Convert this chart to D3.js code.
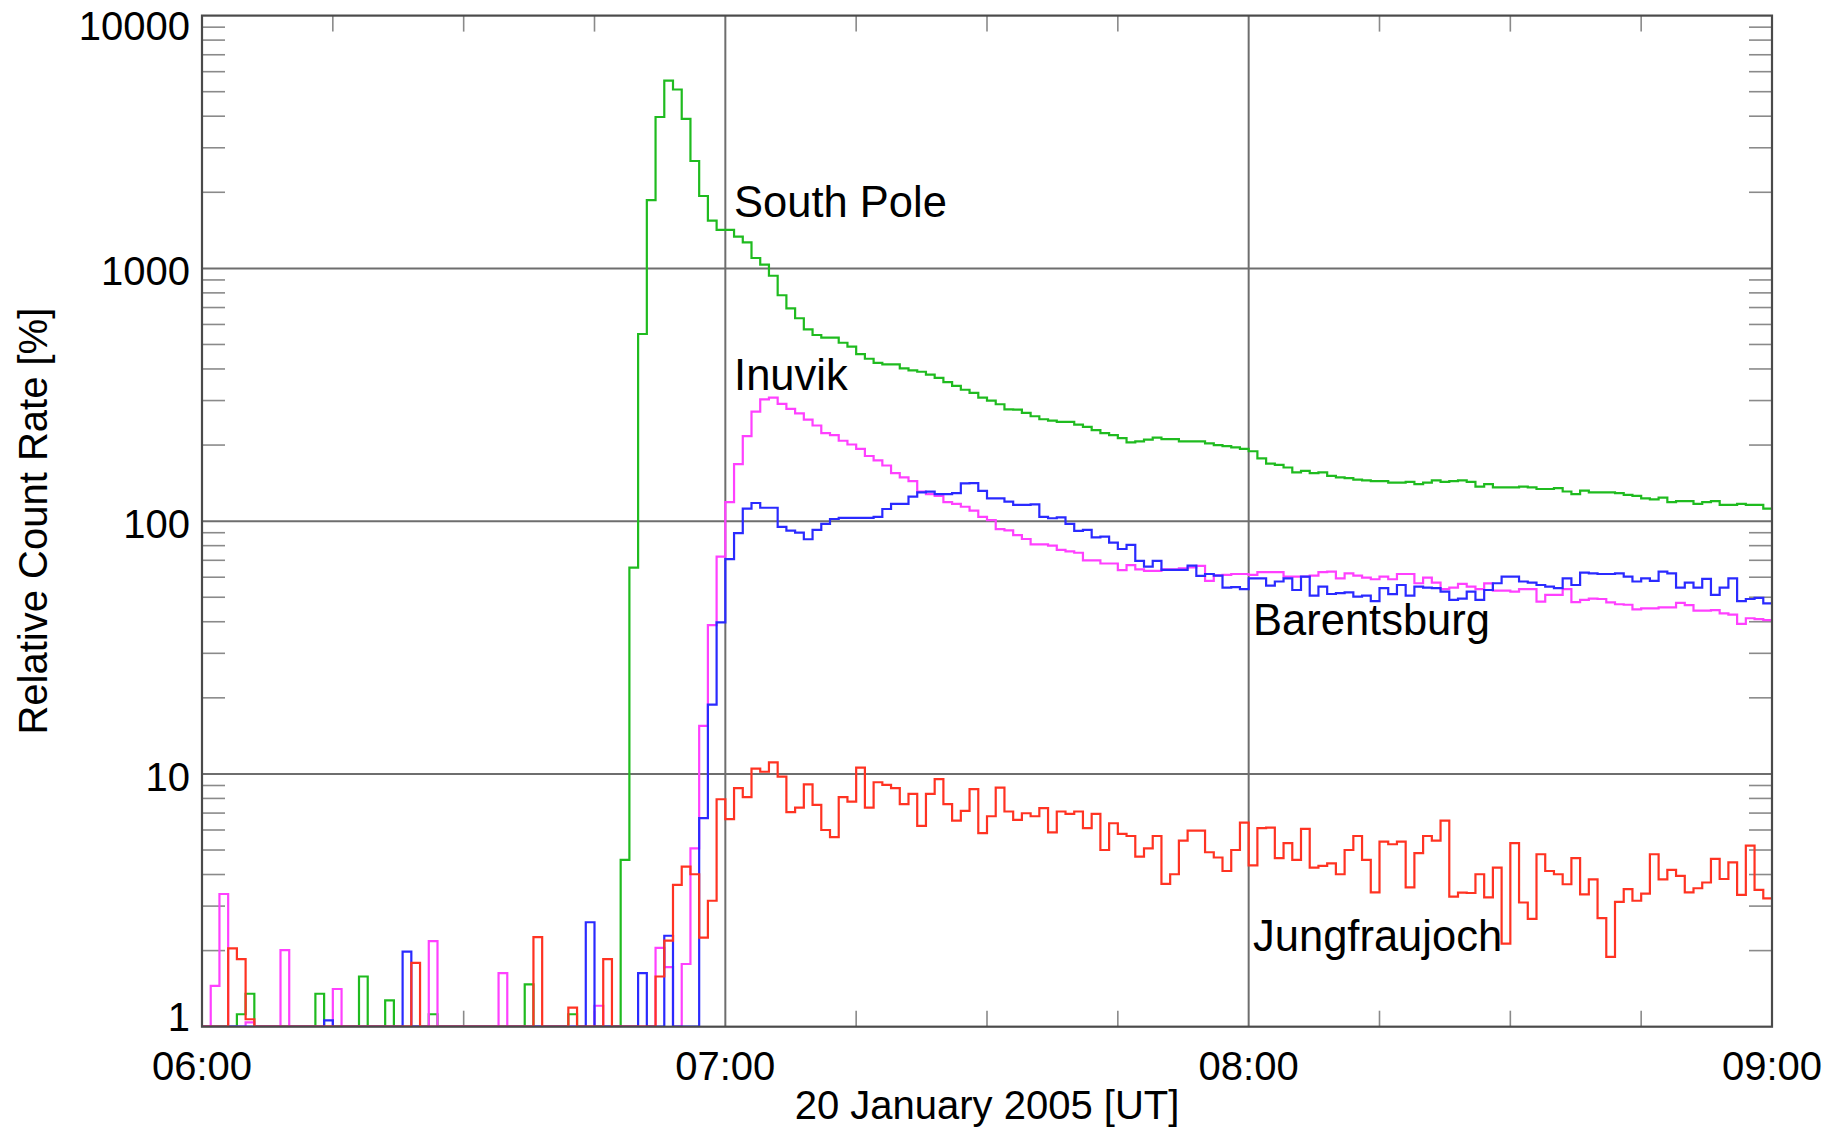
<!DOCTYPE html>
<html>
<head>
<meta charset="utf-8">
<script src="https://cdn.jsdelivr.net/npm/d3@7"></script>
<style>
  html, body { margin: 0; padding: 0; background: #fff; }
  svg { display: block; }
  text { font-family: "Liberation Sans", Arial, Helvetica, sans-serif; fill: #000; }
</style>
</head>
<body>
<svg id="chart" width="1841" height="1132"></svg>
<script>
// ---------- DATA (1-minute bins starting at 06:00 UT; 0 = below axis) ----------
const binMinutes = 1;            // width of each bin in minutes
const startLabel = "06:00";

const southPole = [
  0,0,0,0,1.12,1.35,0,0,0,0, 0,0,0,1.35,0,0,0,0,1.58,0,
  0,1.27,0,0,0,0,1.12,0,0,0, 0,0,0,0,0,0,0,1.47,0,0,
  0,0,1.12,0,0,0,0,0,4.57,65.5, 550,1862,3970,5530,5100,3900,2660,1933,1544,1419,
  1419,1335,1268,1099,1035,935,783,695,635,574, 545,532,532,508,490,458,439,423,417,417,
  402,395,390,380,369,355,343,331,322,308, 300,290,277,276,268,260,253,250,247,247,
  241,236,229,223,219,213,205,207,210,214, 211,211,207,207,207,203,200,198,196,193,
  189,177,169,167,163,156,158,155,156,151, 149,148,146,145,144,144,142,142,143,140,
  142,145,143,144,145,143,137,140,136,136, 136,137,136,134,134,135,131,128,132,130,
  130,130,129,127,126,123,122,124,119,120, 120,117,119,120,116,116,117,116,116,112
];

const inuvik = [
  0,1.45,3.35,0,0,1.04,0,0,0,2.01, 0,0,0,0,0,1.41,0,0,0,0,
  0,0,0,0,0,0,2.18,0,0,0, 0,0,0,0,1.63,0,0,0,0,0,
  0,0,0,0,0,1.21,0,0,0,0, 0,0,2.05,1.72,0,1.77,5.08,15.5,38.8,72.4,
  119,168,217,271,303,308,291,278,267,252, 239,223,219,208,201,193,181,174,166,155,
  149,144,131,128,126,119,117,114,110,104, 101,93,92,88,85,81,81,80,77,76,
  75,70,70,68,68,64,67,64.5,63.6,63.6, 64.4,64.4,65,65.6,66.5,58,61,61.3,61.8,61.8,
  61.3,62.8,62.8,62.8,60.3,60.3,60.3,60.9,62.8,63.1, 59.4,62.2,60.9,59.8,58.9,60.3,58.9,61.8,61.8,56.8,
  59.8,57.1,53.8,54.6,56.5,55.1,53.8,56.7,53.1,53.1, 52.6,53.8,53.8,48.0,51.1,51.1,53.8,47.8,48.8,49.4,
  49.2,47.7,46.9,46.7,44.8,45.2,45.2,45.6,45.6,47.5, 46.5,44.3,44.3,44.5,43.2,42.7,39.2,41.3,41.0,40.6
];

const barentsburg = [
  0,0,0,0,0,0,0,0,0,0, 0,0,0,0,1.06,0,0,0,0,0,
  0,0,0,1.98,0,0,0,0,0,0, 0,0,0,0,0,0,0,0,0,0,
  0,0,0,0,2.59,0,0,0,0,0, 1.63,0,0,2.29,0,0,0,6.68,18.8,39.8,
  70.8,89.6,112,118,113,113,95,91.7,90,84.8, 92.3,97.5,102,103,103,103,103,104,111.7,117,
  117,125,130,130.8,128,128,129,141,141.5,131.7, 123,123,119.4,116,116,116.5,104,102.7,103.5,97.5,
  91.5,92.3,86.3,86.8,82.2,77.6,80.5,69.6,66.1,69.6, 64.1,64.1,64.1,66.7,60.7,61.8,60.9,54.6,54.8,53.8,
  59.4,59.4,55.6,57.7,59.4,53.4,60.3,50.7,55.1,51.5, 51.9,52.3,50.3,50.7,48.3,54.3,51.4,55.9,50.7,55.1,
  54.6,54.3,52.6,48.8,49.4,52.6,48.8,53.4,56.8,60.3, 60.3,57.7,57.1,55.9,55.1,54.3,59.4,55.9,62.6,62.2,
  61.8,61.8,62.2,60.3,57.7,59.4,58.0,63.1,62.2,54.6, 57.1,54.6,59.1,51.1,54.6,59.4,48.3,49.2,49.7,47.3
];

const jungfraujoch = [
  0,0,0,2.04,1.85,1.07,0,0,0,0, 0,0,0,0,0,0,0,0,0,0,
  0,0,0,0,1.79,0,0,0,0,0, 0,0,0,0,0,0,0,0,2.26,0,
  0,0,1.19,0,0,0,1.85,0,0,0, 0,0,1.58,2.19,3.64,4.3,4.01,2.25,3.15,7.94,
  6.62,8.78,8.09,10.5,10.2,11.1,9.75,7.06,7.36,9.1, 7.54,6.0,5.62,8.09,7.77,10.6,7.36,9.27,9.05,8.78,
  7.59,8.34,6.23,8.34,9.53,7.59,6.54,7.14,8.7,5.83, 6.8,8.83,7.1,6.58,6.99,6.8,7.32,5.87,7.1,6.95,
  7.1,6.1,6.95,5.0,6.38,5.79,5.68,4.71,5.08,5.68, 3.67,4.01,5.45,5.97,5.97,4.9,4.67,4.13,5.0,6.42,
  4.35,6.10,6.13,4.64,5.32,4.57,6.06,4.26,4.33,4.43, 4.01,5.0,5.68,4.57,3.40,5.40,5.27,5.40,3.56,4.86,
  5.68,5.45,6.54,3.27,3.39,3.38,4.01,3.25,4.26,2.13, 5.32,3.10,2.67,4.81,4.13,4.01,3.66,4.64,3.34,3.83,
  2.69,1.89,3.12,3.50,3.15,3.36,4.81,3.83,4.17,3.95, 3.40,3.53,3.72,4.61,3.84,4.47,3.32,5.20,3.48,3.22
];

const seriesNames  = ["South Pole", "Inuvik", "Barentsburg", "Jungfraujoch"];
const seriesColors = ["#1fbb1f", "#ff40ff", "#2a2aff", "#ff3322"];

const xTickMinutes = [0, 60, 120, 180];
const xTickLabels  = ["06:00", "07:00", "08:00", "09:00"];
const xMinorMinutes = [15, 30, 45, 75, 90, 105, 135, 150, 165];
const yTickValues  = [1, 10, 100, 1000, 10000];
const yTickLabels  = ["1", "10", "100", "1000", "10000"];

const xTitle = "20 January 2005 [UT]";
const yTitle = "Relative Count Rate [%]";

// label anchor positions in data units (minute, value) = text baseline start
const labelMinute = [61.0, 61.0, 120.5, 120.5];
const labelValue  = [1600, 330, 35.4, 2.0];

// ---------- LAYOUT ----------
const L = 202, R = 1772, T = 15.6, B = 1026.7;
const svg = d3.select("#chart");

const x = d3.scaleLinear().domain([0, 180]).range([L, R]);
const y = d3.scaleLog().domain([1, 10000]).range([B, T]).clamp(true);

// minor y ticks (2..9 of each decade)
const yMinor = [];
[1, 10, 100, 1000].forEach(d => { for (let k = 2; k <= 9; k++) yMinor.push(d * k); });

const gGrid = svg.append("g");
gGrid.selectAll("line.hg").data([10, 100, 1000]).enter().append("line")
  .attr("x1", L).attr("x2", R)
  .attr("y1", d => y(d)).attr("y2", d => y(d))
  .attr("stroke", "#6e6e6e").attr("stroke-width", 2);
gGrid.selectAll("line.vg").data([60, 120]).enter().append("line")
  .attr("x1", d => x(d)).attr("x2", d => x(d))
  .attr("y1", T).attr("y2", B)
  .attr("stroke", "#6e6e6e").attr("stroke-width", 2);
const minorLen = 23;
gGrid.selectAll("line.ymL").data(yMinor).enter().append("line")
  .attr("x1", L).attr("x2", L + minorLen)
  .attr("y1", d => y(d)).attr("y2", d => y(d))
  .attr("stroke", "#8a8a8a").attr("stroke-width", 1.6);
gGrid.selectAll("line.ymR").data(yMinor).enter().append("line")
  .attr("x1", R - minorLen).attr("x2", R)
  .attr("y1", d => y(d)).attr("y2", d => y(d))
  .attr("stroke", "#8a8a8a").attr("stroke-width", 1.6);
const xTickLen = 16;
gGrid.selectAll("line.xmB").data(xMinorMinutes).enter().append("line")
  .attr("x1", d => x(d)).attr("x2", d => x(d))
  .attr("y1", B).attr("y2", B - xTickLen)
  .attr("stroke", "#8a8a8a").attr("stroke-width", 1.6);
gGrid.selectAll("line.xmT").data(xMinorMinutes).enter().append("line")
  .attr("x1", d => x(d)).attr("x2", d => x(d))
  .attr("y1", T).attr("y2", T + xTickLen)
  .attr("stroke", "#8a8a8a").attr("stroke-width", 1.6);

// ---------- SERIES (histogram steps) ----------
const allSeries = [southPole, inuvik, barentsburg, jungfraujoch];
const line = d3.line()
  .x(d => x(d[0]))
  .y(d => y(d[1] > 1 ? d[1] : 1))
  .curve(d3.curveStepAfter);

svg.append("defs").append("clipPath").attr("id", "clip")
  .append("rect").attr("x", L).attr("y", T).attr("width", R - L).attr("height", B - T);

const gData = svg.append("g").attr("clip-path", "url(#clip)");
allSeries.forEach((vals, si) => {
  const pts = vals.map((v, i) => [i * binMinutes, v]);
  pts.push([vals.length * binMinutes, vals[vals.length - 1]]);
  gData.append("path")
    .attr("d", line(pts))
    .attr("fill", "none")
    .attr("stroke", seriesColors[si])
    .attr("stroke-width", 2.2)
    .attr("stroke-linejoin", "miter");
});

// ---------- FRAME ----------
svg.append("rect")
  .attr("x", L).attr("y", T).attr("width", R - L).attr("height", B - T)
  .attr("fill", "none").attr("stroke", "#4a4a4a").attr("stroke-width", 2.2);

// ---------- AXIS LABELS ----------
svg.selectAll("text.xt").data(xTickMinutes).enter().append("text")
  .attr("x", d => x(d)).attr("y", 1080)
  .attr("text-anchor", "middle")
  .attr("font-size", 40)
  .text((d, i) => xTickLabels[i]);

svg.selectAll("text.yt").data(yTickValues).enter().append("text")
  .attr("x", 190)
  .attr("y", (d, i) => y(d) + 14 + (i === 0 ? -10 : (i === 4 ? 10 : 3)))
  .attr("text-anchor", "end")
  .attr("font-size", 40)
  .text((d, i) => yTickLabels[i]);

svg.append("text")
  .attr("x", (L + R) / 2).attr("y", 1119)
  .attr("text-anchor", "middle")
  .attr("font-size", 40)
  .text(xTitle);

svg.append("text")
  .attr("transform", `translate(47, ${(T + B) / 2}) rotate(-90)`)
  .attr("text-anchor", "middle")
  .attr("font-size", 40)
  .text(yTitle);

// ---------- SERIES LABELS ----------
seriesNames.forEach((name, i) => {
  svg.append("text")
    .attr("x", x(labelMinute[i])).attr("y", y(labelValue[i]))
    .attr("font-size", 43.5)
    .text(name);
});
</script>
</body>
</html>
